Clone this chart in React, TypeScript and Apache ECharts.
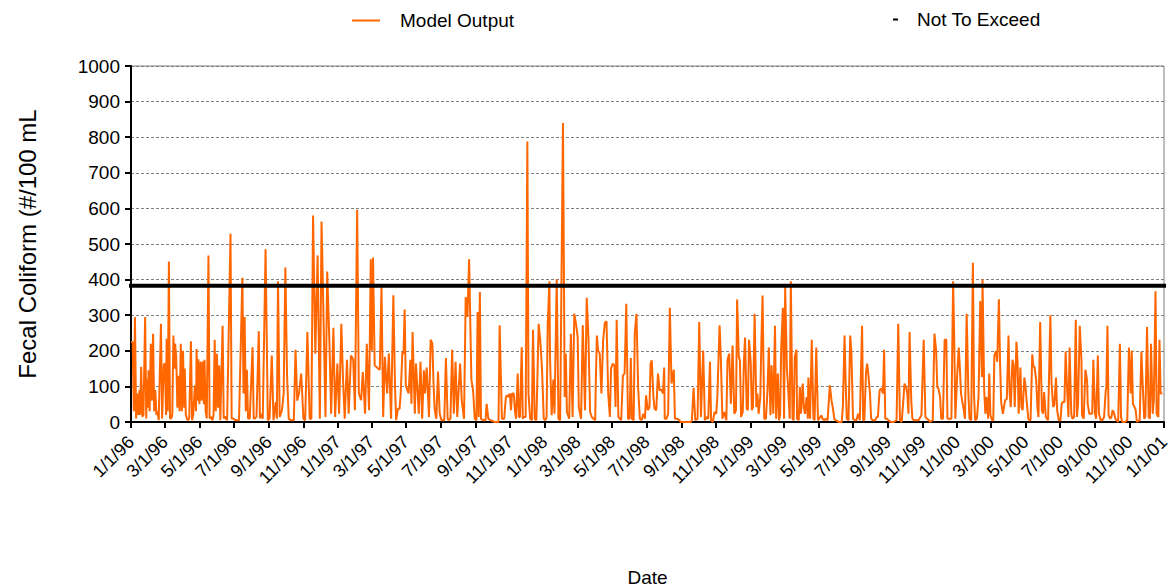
import React, { useEffect, useRef } from "react";
import * as echarts from "echarts";

// ---- tick labels (x axis, every two months) ----
const tickLabels = [
  "1/1/96", "3/1/96", "5/1/96", "7/1/96", "9/1/96", "11/1/96",
  "1/1/97", "3/1/97", "5/1/97", "7/1/97", "9/1/97", "11/1/97",
  "1/1/98", "3/1/98", "5/1/98", "7/1/98", "9/1/98", "11/1/98",
  "1/1/99", "3/1/99", "5/1/99", "7/1/99", "9/1/99", "11/1/99",
  "1/1/00", "3/1/00", "5/1/00", "7/1/00", "9/1/00", "11/1/00", "1/1/01",
];

// ---- Not To Exceed level ----
const notToExceed = 383;

// ---- Model output: [day offset from 1/1/96, fecal coliform #/100 mL] ----
const y1996: [number, number][] = [
  [0,225],[3,225],[5,30],[7,295],[9,10],[11,80],[13,20],[15,90],[16,20],[18,155],[20,15],[22,20],[25,295],[27,10],[28,120],[30,40],[31,145],[33,30],[35,220],[37,60],[39,248],[41,30],[43,90],[45,20],[47,30],[49,5],[53,276],[55,10],[56,10],[58,160],[60,165],[62,20],[63,234],[65,30],[67,451],[69,10],[71,10],[73,20],[75,243],[77,150],[78,220],[80,182],[82,40],[84,130],[86,30],[88,220],[90,30],[92,200],[94,40],[95,150],[97,20],[100,5],[103,10],[106,227],[108,5],[110,20],[113,103],[115,30],[116,205],[118,60],[119,176],[121,50],[123,170],[125,60],[127,170],[129,50],[130,175],[132,30],[134,10],[137,468],[139,10],[141,15],[144,5],[146,20],[148,231],[150,30],[152,192],[154,40],[156,159],[158,5],[162,270],[164,10],[166,15],[170,5],[176,529],[178,10],[180,10],[185,5],[191,5],[197,405],[199,80],[201,295],[203,30],[205,147],[207,10],[210,10],[215,210],[217,10],[219,10],[222,15],[226,255],[228,10],[229,23],[233,9],[238,485],[242,5],[245,9],[249,187],[252,5],[256,56],[258,9],[260,395],[263,14],[267,33],[270,80],[273,434],[276,131],[279,9],[283,5],[288,5],[291,203],[294,60],[297,80],[301,136],[305,9],[308,5],[312,253],[316,9],[319,9],[322,580],[326,192],[330,468],[334,9],[337,563],[341,253],[344,14],[347,423],[351,220],[354,23],[358,265],[361,14],[365,164],
];
const y1997: [number, number][] = [
  [368,23],[372,276],[375,119],[378,9],[382,175],[385,23],[389,187],[393,176],[396,33],[400,596],[403,80],[407,61],[410,140],[414,23],[417,220],[421,33],[424,457],[426,200],[428,462],[431,159],[434,155],[437,150],[440,147],[443,379],[446,14],[449,183],[453,80],[456,192],[460,9],[464,356],[467,94],[469,5],[472,37],[475,37],[477,80],[480,197],[482,192],[484,316],[486,103],[489,89],[491,80],[494,175],[496,51],[498,253],[500,140],[502,23],[504,164],[507,80],[509,23],[512,169],[515,9],[518,145],[520,80],[523,153],[525,84],[527,14],[530,231],[533,220],[535,112],[537,37],[540,9],[543,142],[546,23],[549,5],[554,5],[557,180],[560,9],[562,5],[565,9],[568,203],[571,23],[574,169],[577,14],[582,164],[585,61],[589,9],[592,351],[595,295],[598,457],[602,119],[605,89],[608,9],[611,5],[613,309],[615,14],[617,365],[619,9],[623,5],[627,5],[629,51],[632,9],[636,5],[643,0],[650,0],[652,272],[656,9],[660,9],[663,70],[665,75],[667,70],[670,80],[672,33],[674,80],[677,80],[679,33],[681,9],[684,136],[686,14],[688,14],[691,210],[693,9],[695,14],[698,14],[701,788],[703,80],[706,9],[709,5],[711,259],[714,9],[717,5],[721,276],[724,225],[727,147],[730,9],
];
const y1998: [number, number][] = [
  [733,5],[735,14],[737,272],[740,395],[741,187],[744,19],[747,119],[749,23],[753,401],[756,9],[759,5],[764,840],[767,70],[769,192],[771,28],[775,9],[778,248],[781,14],[784,304],[787,276],[790,239],[792,42],[796,9],[799,272],[803,33],[806,349],[809,239],[812,28],[815,14],[818,9],[821,5],[822,108],[824,243],[826,201],[829,192],[832,80],[835,229],[838,278],[841,283],[844,80],[847,14],[849,150],[852,164],[855,159],[857,42],[859,287],[862,14],[865,9],[867,5],[870,131],[873,136],[876,332],[879,9],[882,9],[884,180],[886,9],[889,5],[891,250],[894,304],[897,94],[900,9],[903,5],[906,23],[909,9],[911,75],[914,33],[917,42],[919,164],[921,173],[924,70],[926,37],[929,33],[932,136],[935,89],[938,91],[941,80],[943,153],[944,9],[947,9],[950,23],[953,321],[956,108],[960,147],[962,9],[966,9],[970,5],[972,0],[981,0],[990,0],[992,5],[995,96],[998,5],[1002,9],[1005,281],[1008,14],[1012,201],[1015,5],[1018,14],[1021,9],[1024,169],[1026,5],[1029,0],[1032,28],[1035,23],[1037,70],[1041,272],[1043,192],[1046,9],[1049,28],[1053,5],[1055,175],[1058,192],[1061,51],[1064,215],[1067,23],[1070,33],[1072,344],[1075,183],[1077,173],[1079,14],[1082,28],[1084,170],[1086,237],[1089,37],[1091,33],[1093,231],
];
const y1999: [number, number][] = [
  [1096,170],[1098,33],[1100,42],[1103,304],[1106,42],[1108,80],[1110,23],[1113,70],[1115,231],[1117,355],[1120,9],[1123,9],[1126,98],[1128,209],[1131,19],[1133,159],[1136,23],[1139,270],[1141,9],[1144,136],[1146,5],[1148,19],[1150,209],[1153,321],[1155,9],[1157,379],[1160,150],[1162,103],[1165,9],[1167,395],[1170,9],[1172,5],[1174,183],[1177,203],[1178,9],[1181,5],[1183,98],[1185,23],[1188,108],[1190,42],[1192,23],[1195,70],[1197,9],[1198,125],[1201,9],[1204,231],[1207,9],[1209,5],[1212,209],[1215,5],[1217,9],[1221,19],[1223,9],[1226,5],[1229,9],[1232,5],[1236,103],[1239,60],[1241,42],[1244,9],[1246,5],[1252,0],[1257,0],[1259,42],[1262,243],[1264,108],[1266,9],[1269,5],[1272,243],[1274,201],[1277,9],[1280,5],[1283,5],[1286,23],[1289,5],[1293,270],[1295,5],[1297,5],[1300,140],[1302,164],[1304,136],[1307,80],[1309,9],[1312,5],[1316,5],[1319,14],[1321,14],[1324,89],[1327,94],[1330,80],[1332,203],[1334,9],[1337,9],[1340,5],[1344,0],[1349,0],[1354,5],[1357,276],[1360,5],[1363,0],[1366,60],[1368,108],[1371,96],[1373,80],[1375,23],[1377,253],[1380,61],[1382,9],[1385,5],[1388,5],[1393,5],[1398,19],[1402,231],[1405,14],[1408,9],[1411,5],[1413,0],[1418,5],[1421,248],[1424,201],[1426,98],[1428,94],[1431,70],[1433,9],[1436,9],[1439,231],[1442,231],[1444,9],[1448,9],[1451,9],[1454,395],[1456,231],[1458,9],
];
const y2000: [number, number][] = [
  [1461,126],[1464,209],[1466,150],[1468,80],[1471,51],[1473,33],[1475,9],[1478,304],[1481,80],[1483,9],[1486,5],[1489,447],[1491,75],[1493,5],[1496,9],[1499,70],[1502,340],[1505,126],[1506,401],[1509,89],[1511,23],[1513,70],[1516,9],[1518,136],[1520,19],[1523,5],[1525,5],[1527,187],[1530,199],[1532,169],[1535,345],[1537,170],[1539,56],[1542,23],[1544,42],[1546,61],[1549,65],[1552,243],[1554,80],[1556,42],[1559,175],[1561,159],[1563,42],[1566,225],[1568,169],[1570,23],[1573,153],[1575,42],[1577,33],[1580,125],[1582,103],[1584,61],[1587,9],[1589,5],[1591,5],[1594,190],[1596,156],[1598,155],[1601,117],[1603,42],[1605,14],[1608,281],[1611,33],[1613,23],[1615,84],[1618,14],[1620,9],[1622,5],[1626,300],[1628,112],[1631,42],[1633,47],[1636,125],[1638,33],[1641,5],[1644,5],[1646,51],[1648,56],[1651,56],[1653,198],[1656,80],[1658,14],[1660,209],[1663,23],[1665,9],[1668,14],[1671,287],[1673,14],[1675,51],[1678,270],[1681,175],[1682,19],[1685,9],[1688,147],[1691,117],[1692,51],[1695,23],[1698,23],[1700,23],[1702,175],[1705,23],[1707,9],[1710,187],[1712,23],[1715,5],[1718,5],[1721,14],[1724,89],[1725,94],[1727,270],[1729,19],[1732,9],[1734,14],[1736,33],[1738,28],[1741,9],[1743,5],[1746,0],[1749,220],[1751,14],[1753,0],[1758,0],[1762,5],[1765,209],[1768,80],[1770,201],[1772,51],[1775,42],[1777,33],[1779,0],[1784,5],[1787,198],[1789,117],[1792,9],[1794,14],[1797,267],[1800,14],[1802,9],[1804,220],[1807,23],[1809,61],[1812,367],[1814,23],[1817,14],[1819,231],[1821,80],[1824,80],
];

const DAY_MS = 86400000;
const START_MS = Date.UTC(1996, 0, 1);

function parseMDY(s: string): number {
  const [m, d, y] = s.split("/").map(Number);
  const year = y < 50 ? 2000 + y : 1900 + y;
  return Date.UTC(year, m - 1, d);
}

function dayToTime(day: number): number {
  return START_MS + day * DAY_MS;
}

export default function App() {
  const ref = useRef<HTMLDivElement>(null);

  useEffect(() => {
    if (!ref.current) return;
    const chart = echarts.init(ref.current, undefined, { renderer: "svg" });

    const tickValues = tickLabels.map(parseMDY);
    const labelMap = new Map<number, string>();
    tickValues.forEach((v, i) => labelMap.set(v, tickLabels[i]));

    const all = [...y1996, ...y1997, ...y1998, ...y1999, ...y2000];
    const modelData = all.map(([d, v]) => [dayToTime(d), v]);
    const minT = tickValues[0];
    const maxT = tickValues[tickValues.length - 1];

    const font = "'Liberation Sans', Arial, sans-serif";

    chart.setOption({
      animation: false,
      textStyle: { fontFamily: font, color: "#000" },
      grid: {
        left: 131,
        right: 9,
        top: 66,
        bottom: 166,
        containLabel: false,
        outerBoundsMode: "none",
        show: true,
        borderColor: "#808080",
        borderWidth: 1,
        backgroundColor: "#fff",
      },
      legend: [
        {
          data: [{ name: "Model Output", icon: "rect" }],
          left: 352,
          top: 11,
          padding: 0,
          itemWidth: 28,
          itemHeight: 2,
          textStyle: { fontSize: 19, color: "#000", fontFamily: font, padding: [0, 0, 0, 15] },
        },
        {
          data: [{ name: "Not To Exceed", icon: "rect" }],
          left: 893,
          top: 10,
          padding: 0,
          itemWidth: 5,
          itemHeight: 2,
          textStyle: { fontSize: 19, color: "#000", fontFamily: font, padding: [8, 0, 0, 14] },
        },
      ],
      xAxis: {
        type: "value",
        min: minT,
        max: maxT,
        name: "Date",
        nameLocation: "middle",
        nameGap: 146,
        nameTextStyle: { fontSize: 19, color: "#000", fontFamily: font },
        axisLine: { show: true, lineStyle: { color: "#000", width: 2 } },
        axisTick: {
          show: true,
          length: 6,
          lineStyle: { color: "#000", width: 2 },
          customValues: tickValues,
        },
        axisLabel: {
          rotate: 45,
          fontSize: 18,
          color: "#000",
          fontFamily: font,
          margin: 17,
          customValues: tickValues,
          formatter: (v: number) => labelMap.get(v) ?? "",
        },
        splitLine: { show: false },
      },
      yAxis: {
        type: "value",
        min: 0,
        max: 1000,
        interval: 100,
        name: "Fecal Coliform (#/100 mL",
        nameLocation: "middle",
        nameRotate: 90,
        nameGap: 92,
        nameTextStyle: { fontSize: 24, color: "#000", fontFamily: font },
        axisLine: { show: true, lineStyle: { color: "#000", width: 2 } },
        axisTick: { show: true, length: 6, lineStyle: { color: "#000", width: 2 } },
        axisLabel: {
          fontSize: 19,
          color: "#000",
          fontFamily: font,
          margin: 11,
          formatter: (v: number) => String(v),
        },
        splitLine: { show: true, lineStyle: { color: "#808080", type: [3, 2], width: 1 } },
      },
      series: [
        {
          name: "Model Output",
          type: "line",
          data: modelData,
          symbol: "none",
          showSymbol: false,
          lineStyle: { color: "#FF6600", width: 2 },
          itemStyle: { color: "#FF6600" },
          z: 2,
        },
        {
          name: "Not To Exceed",
          type: "line",
          data: [
            [dayToTime(-9), notToExceed],
            [dayToTime(1840), notToExceed],
          ],
          symbol: "none",
          showSymbol: false,
          clip: false,
          lineStyle: { color: "#000", width: 4 },
          itemStyle: { color: "#000" },
          z: 3,
        },
      ],
    });

    return () => chart.dispose();
  }, []);

  return (
    <div
      ref={ref}
      style={{ position: "absolute", left: 0, top: 0, width: 1173, height: 588, background: "#fff" }}
    />
  );
}
